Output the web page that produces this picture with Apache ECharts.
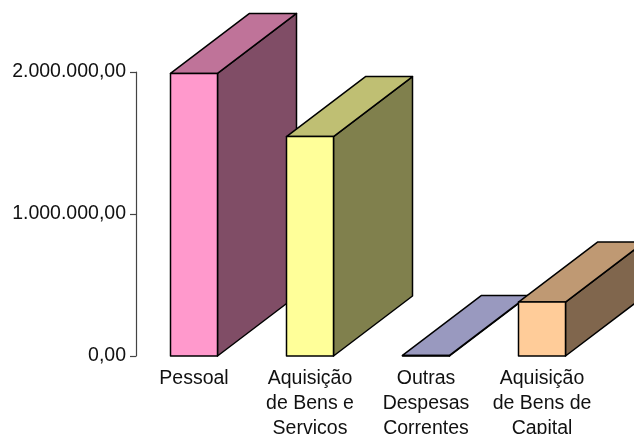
<!DOCTYPE html>
<html>
<head>
<meta charset="utf-8">
<style>html,body{margin:0;padding:0;background:#fff;overflow:hidden}#c{width:634px;height:434px}</style>
<script src="https://cdn.jsdelivr.net/npm/echarts@6/dist/echarts.min.js"></script>
</head>
<body>
<div id="c"></div>
<script>
const categories = ['Pessoal', 'Aquisição\nde Bens e\nServiços', 'Outras\nDespesas\nCorrentes', 'Aquisição\nde Bens de\nCapital'];
const values = [1990000, 1545000, 4000, 380000];
const yTicks = [0, 1000000, 2000000];
const yTickLabels = ['0,00', '1.000.000,00', '2.000.000,00'];
const frontColors = ['#FF99CC', '#FFFF99', '#CCCCFF', '#FFCC99'];
const topColors = ['#BF7399', '#BFBF73', '#9999BF', '#BF9973'];
const sideColors = ['#804D66', '#80804D', '#666680', '#80664D'];

const BAR_W = 47, DX = 79, DY = 60;
const chart = echarts.init(document.getElementById('c'), null, {renderer: 'canvas'});
const font = {fontFamily: '"Liberation Sans", Arial, sans-serif', fontSize: 19.5, color: '#111'};

function renderItem(params, api) {
  const i = api.value(0);
  const top = api.coord([i, api.value(1)]);
  const base = api.coord([i, 0]);
  const x0 = top[0] - BAR_W / 2, x1 = x0 + BAR_W;
  const yT = top[1], yB = base[1];
  const stroke = {stroke: '#000', lineWidth: 1.5, lineJoin: 'round'};
  const poly = (points, fill) => ({type: 'polygon', shape: {points}, style: Object.assign({fill}, stroke)});
  return {type: 'group', children: [
    poly([[x1, yT], [x1 + DX, yT - DY], [x1 + DX, yB - DY], [x1, yB]], sideColors[i]),
    poly([[x0, yT], [x0 + DX, yT - DY], [x1 + DX, yT - DY], [x1, yT]], topColors[i]),
    poly([[x0, yT], [x1, yT], [x1, yB], [x0, yB]], frontColors[i])
  ]};
}

chart.setOption({
  animation: false,
  grid: {left: 136, top: 72, right: 34, bottom: 78, containLabel: false, outerBoundsMode: 'none'},
  xAxis: {
    type: 'category', data: categories,
    axisLine: {show: false}, axisTick: {show: false}, splitLine: {show: false},
    axisLabel: Object.assign({interval: 0, margin: 10, lineHeight: 25, align: 'center'}, font)
  },
  yAxis: {
    type: 'value', min: 0, max: 2000000, interval: 1000000,
    splitLine: {show: false},
    axisLine: {show: true, lineStyle: {color: '#444', width: 1.2}},
    axisTick: {show: true, length: 6, lineStyle: {color: '#444', width: 1.2}},
    axisLabel: Object.assign({margin: 10, formatter: v => yTickLabels[yTicks.indexOf(v)]}, font)
  },
  series: [{
    type: 'custom', clip: false, renderItem,
    encode: {x: 0, y: 1},
    data: values.map((v, i) => [i, v])
  }]
});
</script>
</body>
</html>
